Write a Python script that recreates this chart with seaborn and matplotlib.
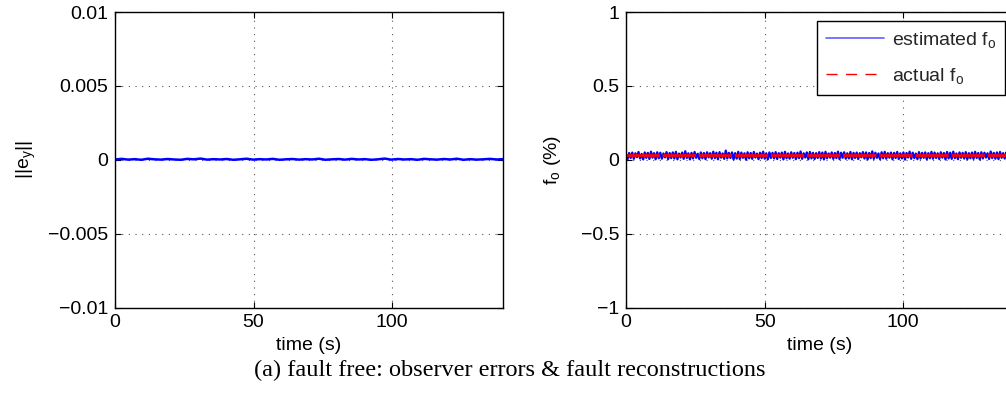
import numpy as np
import matplotlib
matplotlib.use("Agg")
import matplotlib.pyplot as plt
from matplotlib.lines import Line2D
import seaborn as sns

# ── data ────────────────────────────────────────────────────────────────────
t_end = 140

# ||e_y|| : essentially zero, tiny jitter
ey = [
    2e-5, 6e-5, 1e-5, 4e-5, 0.0, 7e-5, 3e-5, 1e-5, 5e-5, 2e-5,
    0.0, 6e-5, 3e-5, 8e-5, 1e-5, 4e-5, 2e-5, 5e-5, 0.0, 3e-5,
    7e-5, 1e-5, 4e-5, 2e-5, 6e-5, 0.0, 3e-5, 5e-5, 1e-5, 4e-5,
    2e-5, 7e-5, 0.0, 3e-5, 5e-5, 1e-5, 6e-5, 2e-5, 4e-5, 0.0,
    3e-5, 8e-5, 1e-5, 5e-5, 2e-5, 4e-5, 0.0, 6e-5, 3e-5, 1e-5,
    5e-5, 2e-5, 7e-5, 0.0, 4e-5, 1e-5, 3e-5, 6e-5, 2e-5, 4e-5,
]

# estimated f_o (%) : noisy band around 0.03
est_fo = [
    0.031, 0.004, 0.046, 0.012, 0.049, 0.006, 0.044, 0.017, 0.053, 0.009,
    0.040, 0.002, 0.050, 0.013, 0.047, 0.005, 0.055, 0.014, 0.045, 0.003,
    0.051, 0.010, 0.048, 0.007, 0.043, 0.016, 0.052, 0.004, 0.046, 0.011,
    0.050, 0.008, 0.054, 0.003, 0.042, 0.015, 0.049, 0.006, 0.058, 0.012,
    0.044, 0.002, 0.047, 0.009, 0.053, 0.013, 0.041, 0.005, 0.050, 0.010,
    0.046, 0.004, 0.051, 0.016, 0.045, 0.007, 0.055, 0.011, 0.048, 0.003,
    0.052, 0.014, 0.043, 0.006, 0.062, 0.009, 0.047, 0.012, 0.050, 0.002,
    0.045, 0.008, 0.054, 0.005, 0.049, 0.013, 0.044, 0.000, 0.051, 0.010,
    0.046, 0.006, 0.053, 0.015, 0.042, 0.004, 0.048, 0.011, 0.055, 0.007,
    0.044, 0.003, 0.050, 0.012, 0.047, 0.009, 0.052, 0.005, 0.045, 0.014,
    0.049, 0.002, 0.054, 0.010, 0.043, 0.007, 0.051, 0.013, 0.046, 0.004,
    0.048, 0.011, 0.056, 0.006, 0.044, 0.015, 0.050, 0.003, 0.053, 0.009,
    0.047, 0.005, 0.045, 0.012, 0.052, 0.008, 0.049, 0.002, 0.054, 0.010,
    0.043, 0.014, 0.050, 0.006, 0.046, 0.011, 0.055, 0.004, 0.048, 0.013,
    0.051, 0.007, 0.044, 0.009, 0.053, 0.003, 0.047, 0.012, 0.049, 0.005,
    0.045, 0.016, 0.052, 0.008, 0.050, 0.002, 0.046, 0.011, 0.057, 0.006,
    0.048, 0.013, 0.043, 0.004, 0.051, 0.010, 0.054, 0.007, 0.045, 0.014,
    0.049, 0.003, 0.047, 0.012, 0.053, 0.005, 0.044, 0.009, 0.050, 0.001,
    0.046, 0.015, 0.055, 0.006, 0.048, 0.011, 0.042, 0.004, 0.052, 0.008,
    0.047, 0.013, 0.050, 0.003, 0.045, 0.010, 0.054, 0.007, 0.049, 0.012,
    0.044, 0.005, 0.051, 0.014, 0.046, 0.002, 0.053, 0.009, 0.048, 0.006,
    0.055, 0.011, 0.043, 0.004, 0.050, 0.013, 0.047, 0.008, 0.052, 0.003,
    0.045, 0.010, 0.049, 0.006, 0.054, 0.012, 0.046, 0.002, 0.051, 0.009,
    0.048, 0.015, 0.044, 0.005, 0.056, 0.011, 0.047, 0.007, 0.050, 0.004,
    0.053, 0.013, 0.045, 0.008, 0.049, 0.003, 0.052, 0.010, 0.046, 0.031,
]

# actual f_o (%) : constant level
actual_fo_level = 0.031

x_ticks = [0, 50, 100]
x_ticklabels = ["0", "50", "100"]
left_yticks = [-0.01, -0.005, 0, 0.005, 0.01]
left_yticklabels = ["\u22120.01", "\u22120.005", "0", "0.005", "0.01"]
right_yticks = [-1, -0.5, 0, 0.5, 1]
right_yticklabels = ["\u22121", "\u22120.5", "0", "0.5", "1"]

caption = "(a) fault free: observer errors & fault reconstructions"

# ── style ─────────────────────────────────────────────────────────────────
sns.set_theme(style="white")
plt.rcParams["font.family"] = ["Liberation Sans", "DejaVu Sans"]
plt.rcParams["mathtext.fontset"] = "custom"
plt.rcParams["mathtext.rm"] = "Liberation Sans"
plt.rcParams["mathtext.it"] = "Liberation Sans:italic"
FS = 14

t_ey = np.linspace(0, t_end, len(ey))
t_fo = np.linspace(0, t_end, len(est_fo))
actual_fo = [actual_fo_level] * len(est_fo)

fig = plt.figure(figsize=(10.06, 4.13), dpi=100)
ax1 = fig.add_axes([0.1143, 0.2554, 0.3857, 0.7155])
ax2 = fig.add_axes([0.6223, 0.2554, 0.3857, 0.7155])


def style_axes(ax, yticks, yticklabels):
    ax.set_xlim(0, t_end)
    ax.set_ylim(yticks[0], yticks[-1])
    ax.set_xticks(x_ticks)
    ax.set_xticklabels(x_ticklabels)
    ax.set_yticks(yticks)
    ax.set_yticklabels(yticklabels)
    ax.tick_params(direction="in", length=4, width=0.8, colors="black",
                   labelsize=FS, top=True, right=True, bottom=True, left=True,
                   pad=5)
    for s in ax.spines.values():
        s.set_color("black")
        s.set_linewidth(1.0)
    ax.grid(True, color="#555555", linestyle=(0, (1, 5)), linewidth=0.8)
    ax.set_axisbelow(True)
    ax.set_xlabel("time (s)", fontsize=FS, color="black", labelpad=4)


# left: output error norm
sns.lineplot(x=t_ey, y=ey, ax=ax1, color="#0000ff", linewidth=1.8,
             estimator=None, sort=False)
style_axes(ax1, left_yticks, left_yticklabels)
ax1.set_ylabel(r"||e$_\mathrm{y}$||", fontsize=FS, color="black")
ax1.yaxis.set_label_coords(-0.198, 0.5)

# right: fault reconstruction
sns.lineplot(x=t_fo, y=est_fo, ax=ax2, color="#0000ff", linewidth=1.6,
             estimator=None, sort=False)
sns.lineplot(x=t_fo, y=actual_fo, ax=ax2, color="#ff0000", linewidth=2.0,
             estimator=None, sort=False)
ax2.lines[-1].set_linestyle((0, (12, 1)))
style_axes(ax2, right_yticks, right_yticklabels)
ax2.set_ylabel(r"f$_\mathrm{o}$ (%)", fontsize=FS, color="black")
ax2.yaxis.set_label_coords(-0.162, 0.5)

handles = [
    Line2D([], [], color="#6060ff", linewidth=1.2),
    Line2D([], [], color="#ff0000", linewidth=1.0, linestyle=(0, (8, 6))),
]
leg = ax2.legend(handles, [r"estimated f$_\mathrm{o}$", r"actual f$_\mathrm{o}$"],
                 loc="upper right", bbox_to_anchor=(0.977, 0.97),
                 borderaxespad=0, fontsize=FS, handlelength=3.0,
                 handletextpad=0.4, labelspacing=0.85, borderpad=0.45,
                 frameon=True, fancybox=False, framealpha=1)
leg.get_frame().set_edgecolor("black")
leg.get_frame().set_linewidth(1.0)

fig.text(0.507, 0.102, caption, ha="center", va="center", fontsize=17.5,
         family=["Liberation Serif", "DejaVu Serif"], color="black")

fig.savefig("out.png", dpi=100)
plt.close(fig)
